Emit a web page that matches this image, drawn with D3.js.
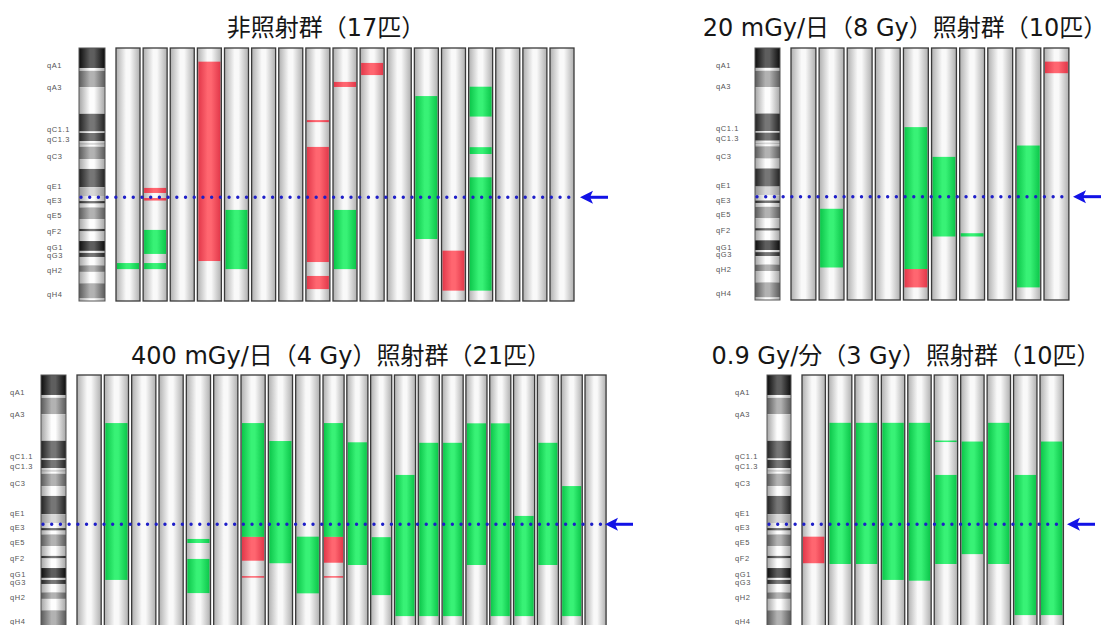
<!DOCTYPE html>
<html>
<head>
<meta charset="utf-8">
<script src="https://cdn.jsdelivr.net/npm/d3@7"></script>
<style>
  html, body { margin: 0; padding: 0; background: #fff; }
  svg { display: block; }
</style>
</head>
<body>
<script>
// Mouse chromosome 2: ideogram bands, positions in % of chromosome length (0 = centromere end)
const cytobands = [
  [0, 7.9, "gpos100"], [7.9, 9, "gneg"], [9, 15.5, "gpos50"], [15.5, 26, "gneg"],
  [26, 33, "gpos75"], [33, 33.6, "gneg"], [33.6, 36.8, "gpos75"], [36.8, 37.5, "gneg"],
  [37.5, 38.3, "gpos33"], [38.3, 39, "gneg"], [39, 43.9, "gpos50"], [43.9, 47.8, "gneg"],
  [47.8, 55, "gpos75"], [55, 58.5, "gpos33"], [58.5, 60.5, "gneg"], [60.5, 61.5, "gpos75"],
  [61.5, 63, "gneg"], [63, 67.6, "gpos50"], [67.6, 71.5, "gneg"], [71.5, 72.5, "gpos75"],
  [72.5, 76.3, "gneg"], [76.3, 80.2, "gpos100"], [80.2, 81, "gneg"], [81, 82.6, "gpos75"],
  [82.6, 85.9, "gneg"], [85.9, 88.5, "gpos50"], [88.5, 93, "gneg"], [93, 99, "gpos50"],
  [99, 100, "gneg"]
];

// Band name ticks beside the ideogram
const bandLabels = ["qA1", "qA3", "qC1.1", "qC1.3", "qC3", "qE1", "qE3", "qE5", "qF2", "qG1", "qG3", "qH2", "qH4"];
const bandLabelPos = [6.7, 15.4, 32, 36, 43, 54.5, 60.3, 66, 72.3, 79, 81.8, 87.7, 97.3];

// Locus marked by the arrow and dotted line
const markerPos = 59;

// Panel titles
const titles = [
  "非照射群（17匹）",
  "20 mGy/日（8 Gy）照射群（10匹）",
  "400 mGy/日（4 Gy）照射群（21匹）",
  "0.9 Gy/分（3 Gy）照射群（10匹）"
];

// One entry per mouse: altered segments [start, end, kind]
const groupControl = [
  [[85, 87.4, "loss"]],
  [[55.3, 57.3, "gain"], [59.3, 60.3, "gain"], [71.9, 81.4, "loss"], [85, 87.4, "loss"]],
  [],
  [[5.4, 84.2, "gain"]],
  [[64, 87.4, "loss"]],
  [],
  [],
  [[28.5, 29.3, "gain"], [39.1, 84.6, "gain"], [90.1, 95.3, "gain"]],
  [[13.4, 15.4, "gain"], [64, 87.4, "loss"]],
  [[5.9, 10.7, "gain"]],
  [],
  [[19, 75.5, "loss"]],
  [[80.1, 95.9, "gain"]],
  [[15.3, 27.1, "loss"], [39.2, 41.9, "loss"], [51.1, 95.9, "loss"]],
  [],
  [],
  []
];

const group8Gy = [
  [],
  [[63.8, 87.1, "loss"]],
  [],
  [],
  [[31.4, 87.7, "loss"], [87.7, 95, "gain"]],
  [[43.2, 74.8, "loss"]],
  [[73.5, 74.8, "loss"]],
  [],
  [[38.7, 95, "loss"]],
  [[5.4, 10, "gain"]]
];

const group4Gy = [
  [],
  [[19, 81, "loss"]],
  [],
  [],
  [[64.8, 66.4, "loss"], [72.7, 86.2, "loss"]],
  [],
  [[19, 64, "loss"], [64, 73.4, "gain"], [79.5, 80.1, "gain"]],
  [[26.1, 74.4, "loss"]],
  [[63.9, 86.3, "loss"]],
  [[19, 64, "loss"], [64, 74.2, "gain"], [79.5, 80.1, "gain"]],
  [[26.6, 75.1, "loss"]],
  [[64.1, 87, "loss"]],
  [[39.5, 95.3, "loss"]],
  [[26.8, 95.3, "loss"]],
  [[26.8, 95.3, "loss"]],
  [[19.1, 75.1, "loss"]],
  [[19.1, 95.3, "loss"]],
  [[55.7, 95.3, "loss"]],
  [[26.8, 75.1, "loss"]],
  [[43.9, 95.3, "loss"]],
  []
];

const group3Gy = [
  [[63.9, 74.4, "gain"]],
  [[18.9, 74.7, "loss"]],
  [[18.9, 74.7, "loss"]],
  [[18.9, 81, "loss"]],
  [[18.9, 81.3, "loss"]],
  [[25.9, 26.5, "loss"], [39.5, 74.7, "loss"]],
  [[26.3, 70.8, "loss"]],
  [[18.9, 74.7, "loss"]],
  [[39.5, 94.9, "loss"]],
  [[26.3, 94.9, "loss"]]
];

// Panel placement on the page
const layout = [
  { ideoX: 79,  ideoW: 26, top: 48,  height: 253, colDomain: [0, 16],    colRange: [116, 550],     labelX: 47,  arrowX: 580,  titleX: 326, titleY: 28 },
  { ideoX: 755, ideoW: 25, top: 48,  height: 252, colDomain: [0, 9],     colRange: [791, 1044],    labelX: 716, arrowX: 1073, titleX: 905, titleY: 28 },
  { ideoX: 41,  ideoW: 25, top: 375, height: 253, colDomain: [0, 9, 20], colRange: [77, 323, 585], labelX: 10,  arrowX: 605,  titleX: 341, titleY: 356 },
  { ideoX: 767, ideoW: 24, top: 375, height: 253, colDomain: [0, 9],     colRange: [802, 1040],    labelX: 735, arrowX: 1067, titleX: 906, titleY: 356 }
];
const groups = [groupControl, group8Gy, group4Gy, group3Gy];

const W = 1113, H = 625;
const svg = d3.select("body").append("svg").attr("width", W).attr("height", H);
const defs = svg.append("defs");

// Horizontal "cylinder" shading: dark edges, light centre
const shades = {
  gpos100: ["#0c0c0c", "#5e5e5e"],
  gpos75:  ["#222222", "#767676"],
  gpos50:  ["#5a5a5a", "#b2b2b2"],
  gpos33:  ["#939393", "#d8d8d8"],
  gneg:    ["#a4a4a4", "#fdfdfd"],
  col:     ["#afafaf", "#f9f9f9"],
  gain:    ["#e2384a", "#ff6670"],
  loss:    ["#0cc64a", "#38f276"]
};
Object.entries(shades).forEach(([key, [edge, centre]]) => {
  const lg = defs.append("linearGradient").attr("id", "cyl-" + key)
    .attr("x1", "0%").attr("x2", "100%").attr("y1", "0%").attr("y2", "0%");
  lg.append("stop").attr("offset", "0%").attr("stop-color", edge);
  lg.append("stop").attr("offset", "42%").attr("stop-color", centre);
  lg.append("stop").attr("offset", "58%").attr("stop-color", centre);
  lg.append("stop").attr("offset", "100%").attr("stop-color", edge);
});

function drawPanel(p, columns, title) {
  const g = svg.append("g");
  const y = d3.scaleLinear().domain([0, 100]).range([p.top, p.top + p.height]);
  const x = d3.scaleLinear().domain(p.colDomain).range(p.colRange);
  const n = columns.length;
  const pitch = i => (i < n - 1 ? x(i + 1) - x(i) : x(i) - x(i - 1));
  const colW = i => pitch(i) * 0.885;

  // Title
  g.append("text")
    .attr("x", p.titleX).attr("y", p.titleY)
    .attr("text-anchor", "middle").attr("dominant-baseline", "central")
    .attr("font-family", "'DejaVu Sans', 'Noto Sans CJK JP', sans-serif")
    .attr("font-size", 24).attr("fill", "#161616")
    .text(title);

  // Band labels
  g.selectAll("text.band-label").data(bandLabels).join("text")
    .attr("class", "band-label")
    .attr("x", p.labelX)
    .attr("y", (d, i) => y(bandLabelPos[i]))
    .attr("dy", "0.35em")
    .attr("font-family", "'Liberation Sans', Arial, sans-serif")
    .attr("font-size", 7.5).attr("letter-spacing", 0.6)
    .attr("fill", "#555")
    .text(d => d);

  // Ideogram
  g.selectAll("rect.band").data(cytobands).join("rect")
    .attr("class", "band")
    .attr("x", p.ideoX).attr("width", p.ideoW)
    .attr("y", d => y(d[0])).attr("height", d => y(d[1]) - y(d[0]))
    .attr("fill", d => `url(#cyl-${d[2]})`);
  g.append("rect")
    .attr("x", p.ideoX).attr("y", y(0)).attr("width", p.ideoW).attr("height", y(100) - y(0))
    .attr("fill", "none").attr("stroke", "#555").attr("stroke-width", 1);

  // One cylinder per animal
  const cols = g.selectAll("g.animal").data(columns).join("g").attr("class", "animal");
  cols.append("rect")
    .attr("x", (d, i) => x(i)).attr("width", (d, i) => colW(i))
    .attr("y", y(0)).attr("height", y(100) - y(0))
    .attr("fill", "url(#cyl-col)");
  cols.each(function (segs, i) {
    d3.select(this).selectAll("rect.seg").data(segs).join("rect")
      .attr("class", "seg")
      .attr("x", x(i) + 1).attr("width", colW(i) - 2)
      .attr("y", d => y(d[0])).attr("height", d => Math.max(1, y(d[1]) - y(d[0])))
      .attr("fill", d => `url(#cyl-${d[2]})`);
  });
  cols.append("rect")
    .attr("x", (d, i) => x(i)).attr("width", (d, i) => colW(i))
    .attr("y", y(0)).attr("height", y(100) - y(0))
    .attr("fill", "none").attr("stroke", "#3a3a3a").attr("stroke-width", 1.3);

  // Dotted marker line and arrow
  const ym = y(markerPos);
  const lineEnd = x(n - 1) + colW(n - 1);
  g.append("line")
    .attr("x1", p.ideoX + 2).attr("x2", lineEnd)
    .attr("y1", ym).attr("y2", ym)
    .attr("stroke", "#1e1ec8").attr("stroke-width", 3.4)
    .attr("stroke-linecap", "round").attr("stroke-dasharray", "0.01 8.7");
  g.append("line")
    .attr("x1", p.arrowX + 8).attr("x2", p.arrowX + 28)
    .attr("y1", ym).attr("y2", ym)
    .attr("stroke", "#1212e6").attr("stroke-width", 3);
  g.append("path")
    .attr("d", `M${p.arrowX},${ym} L${p.arrowX + 13},${ym - 6.5} L${p.arrowX + 10},${ym} L${p.arrowX + 13},${ym + 6.5} Z`)
    .attr("fill", "#1212e6");
}

layout.forEach((p, k) => drawPanel(p, groups[k], titles[k]));
</script>
</body>
</html>
